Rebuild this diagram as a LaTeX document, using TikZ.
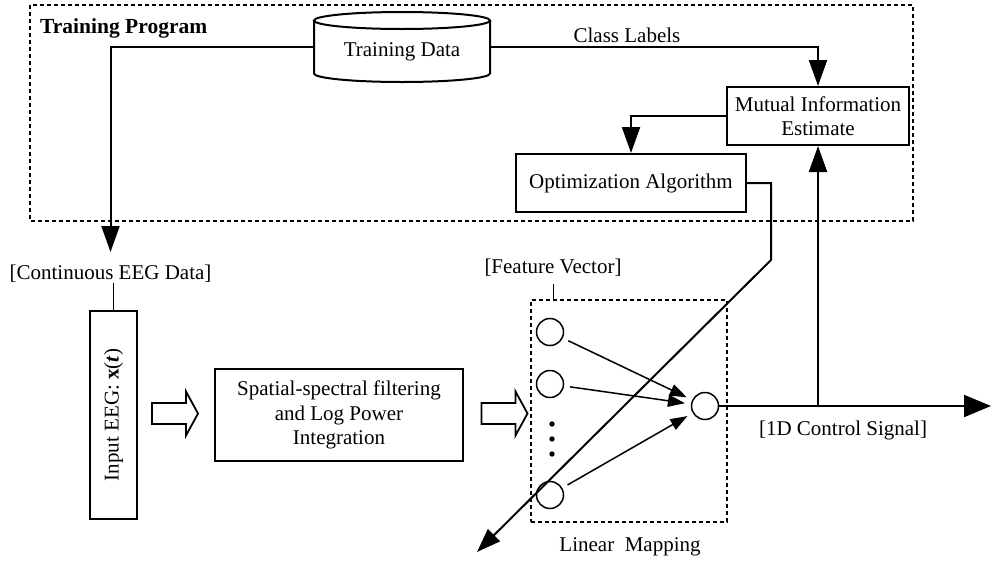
\documentclass[tikz,border=0pt]{standalone}
\usepackage{fontspec}
\setmainfont{Liberation Serif}
\usetikzlibrary{arrows.meta,calc}
\begin{document}
\begin{tikzpicture}[x=1pt,y=-1pt,
  every node/.style={font=\fontsize{21}{24.5}\selectfont},
  box/.style={draw, line width=2pt, inner sep=0pt, align=center},
  dashbox/.style={draw, line width=2pt, dash pattern=on 4pt off 3pt, inner sep=0pt},
  lbl/.style={inner sep=0pt, align=center},
  conn/.style={line width=2pt},
  bigtip/.style={-{Triangle[length=26pt,width=18pt]}},
  neuron/.style={circle, draw, line width=1.5pt, minimum size=27pt, inner sep=0pt},
  wire/.style={line width=1.5pt, -{Triangle[length=17pt,width=12pt]}, shorten <=6pt, shorten >=6pt},
  tick/.style={line width=1pt},
  blockarrow/.pic={
    \draw[line width=1.8pt] (-23,-10.5) -- (11,-10.5) -- (11,-22) -- (23,0) -- (11,22) -- (11,10.5) -- (-23,10.5) -- cycle;
  }
]
\useasboundingbox (0,0) rectangle (992,563);

% training program frame
\draw[dashbox] (30,5) rectangle (913,221);
\node[lbl, anchor=west, font=\fontsize{21.5}{24.5}\selectfont\bfseries] (tpl) at (40,28) {Training Program};

% training data store
\draw[line width=2pt] (402,20.5) ellipse [x radius=88pt, y radius=8.5pt];
\draw[line width=2pt] (314,20.5) -- (314,73.5) arc[start angle=180, end angle=360, x radius=88pt, y radius=8.5pt] -- (490,20.5);
\node[inner sep=0pt, minimum width=176pt, minimum height=53pt] (td) at (402,47) {};
\node[lbl] (tdtext) at (402,51.5) {Training Data};

% training blocks
\node[box, minimum width=182pt, minimum height=58pt] (mi) at (818,116) {Mutual Information\\Estimate};
\node[box, minimum width=230pt, minimum height=58pt] (oa) at (631,183) {Optimization Algorithm};
\node[lbl] (cl) at (627,35) {Class Labels};

% processing chain
\node[lbl] (ceeg) at (110.5,274) {[Continuous EEG Data]};
\node[box, minimum width=47pt, minimum height=208pt] (inp) at (113.5,415) {\rotatebox{90}{Input EEG: \textbf{x}(\textbf{\textit{t}})}};
\node[box, minimum width=248pt, minimum height=92pt] (sp) at (339,415) {Spatial-spectral filtering\\and Log Power\\Integration};
\pic at (175,413.5) {blockarrow};
\pic at (504.5,413.5) {blockarrow};

% linear mapping
\node[dashbox, minimum width=196pt, minimum height=222pt] (fv) at (629,411) {};
\node[lbl] (fvl) at (553,268) {[Feature Vector]};
\node[lbl] (lm) at (630,547) {Linear\ \ Mapping};
\node[neuron] (c1) at (550,332) {};
\node[neuron] (c2) at (550,384) {};
\node[neuron] (c3) at (550,495) {};
\node[neuron] (out) at (705,406) {};
\fill (552,424) circle[radius=2.7pt];
\fill (552,439) circle[radius=2.7pt];
\fill (552,454) circle[radius=2.7pt];
\node[lbl] (cs) at (843,430) {[1D Control Signal]};

% free ends
\coordinate (eegin) at (110.5,252);
\coordinate (bend) at (771,260);
\coordinate (fb) at (477,552);
\coordinate (sigend) at (991,406);

% connectors
\draw[conn, bigtip] (td.west) -| (eegin);
\draw[conn, bigtip] (td.east) -| (mi.north);
\draw[conn, bigtip] (mi.west) -| (oa.north);
\draw[conn, -{Triangle[length=24pt,width=17pt]}] (oa.east) -| (bend) -- (fb);
\draw[conn, -{Triangle[length=27pt,width=22pt]}] (out.east) -- (sigend);
\draw[conn, bigtip] (mi.south |- out.center) -- (mi.south);
\draw[tick] (inp.north) -- (inp.north |- ceeg.south);
\draw[tick] (fv.north -| fvl.south) -- ++(0,-15);
\draw[wire] (c1) -- (out);
\draw[wire] (c2) -- (out);
\draw[wire] (c3) -- (out);
\end{tikzpicture}
\end{document}
